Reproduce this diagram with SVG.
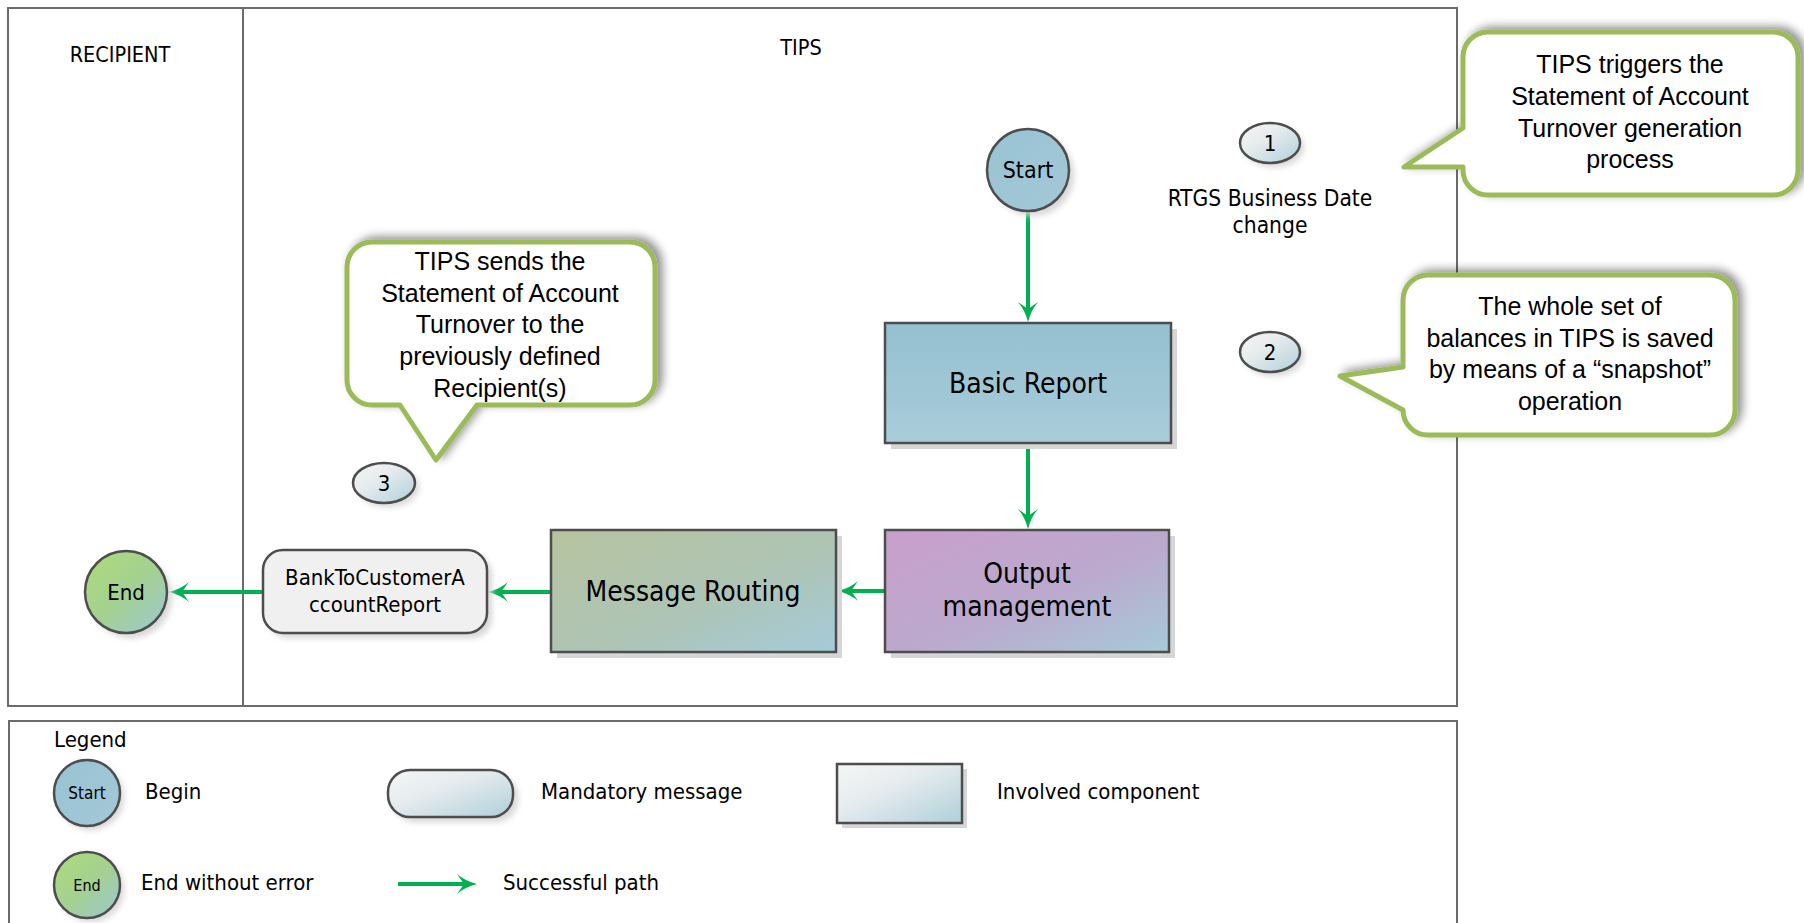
<svg xmlns="http://www.w3.org/2000/svg" width="1804" height="923" viewBox="0 0 1804 923">
<defs>
<style>
.t{font-family:"DejaVu Sans Condensed","Liberation Sans",sans-serif;fill:#000}
.c{font-family:"Liberation Sans",Arial,sans-serif;fill:#000;font-size:25px;text-anchor:middle}
.m{text-anchor:middle}
.frame{fill:none;stroke:#6b6b6b;stroke-width:2}
.node{stroke:#4d4d4d;stroke-width:2.5}
.sh{fill:#d6d6d6}
.callout{fill:#fff;stroke:#9BBB59;stroke-width:5;stroke-linejoin:round}
.conn{stroke:#00B050;stroke-width:4;fill:none}
</style>
<linearGradient id="gBlue" x1="0" y1="0" x2="0" y2="1"><stop offset="0" stop-color="#94C0D0"/><stop offset="1" stop-color="#A9CCDA"/></linearGradient>
<linearGradient id="gPurple" x1="0" y1="0" x2="1" y2="1"><stop offset="0" stop-color="#C99FCB"/><stop offset="0.55" stop-color="#BBA9CD"/><stop offset="1" stop-color="#A6CAD9"/></linearGradient>
<linearGradient id="gOlive" x1="0" y1="0" x2="1" y2="1"><stop offset="0" stop-color="#B6C39E"/><stop offset="0.55" stop-color="#AEC4B4"/><stop offset="1" stop-color="#A5CBD9"/></linearGradient>
<linearGradient id="gGreen" x1="0" y1="0" x2="1" y2="1"><stop offset="0" stop-color="#AEDB79"/><stop offset="0.5" stop-color="#A4D190"/><stop offset="1" stop-color="#9CC8D2"/></linearGradient>
<linearGradient id="gStart" x1="0" y1="0" x2="1" y2="1"><stop offset="0" stop-color="#98C2D2"/><stop offset="1" stop-color="#A4C9D8"/></linearGradient>
<linearGradient id="gPale" x1="0" y1="0" x2="1" y2="1"><stop offset="0" stop-color="#F5F5F5"/><stop offset="0.4" stop-color="#E6ECEE"/><stop offset="1" stop-color="#AFCFDA"/></linearGradient>
<filter id="blur" x="-20%" y="-20%" width="140%" height="140%"><feGaussianBlur stdDeviation="3"/></filter>
<filter id="cshadow" x="-10%" y="-15%" width="120%" height="130%"><feGaussianBlur in="SourceAlpha" stdDeviation="5"/><feOffset dx="5" dy="-3"/><feComponentTransfer><feFuncA type="linear" slope="0.45"/></feComponentTransfer><feMerge><feMergeNode/><feMergeNode in="SourceGraphic"/></feMerge></filter>
<marker id="arr" markerWidth="20" markerHeight="20" refX="7" refY="10" orient="auto" markerUnits="userSpaceOnUse" viewBox="0 0 20 20"><path d="M0,0 Q8,7 20,10 Q8,13 0,20 L7,10 Z" fill="#00B050"/></marker>
</defs>
<rect width="1804" height="923" fill="#fff"/>

<g id="lanes">
<rect class="frame" x="8" y="8" width="1449" height="698"/>
<line class="frame" x1="243" y1="8" x2="243" y2="706"/>
<text class="t m" x="120" y="62" font-size="21.5">RECIPIENT</text>
<text class="t m" x="801" y="55" font-size="21.5">TIPS</text>
</g>

<g id="connectors">
<line class="conn" x1="1028" y1="212" x2="1028" y2="309" marker-end="url(#arr)"/>
<line class="conn" x1="1028" y1="443" x2="1028" y2="516" marker-end="url(#arr)"/>
<line class="conn" x1="885" y1="591" x2="851" y2="591" marker-end="url(#arr)"/>
<line class="conn" x1="551" y1="592" x2="501" y2="592" marker-end="url(#arr)"/>
<line class="conn" x1="263" y1="592" x2="182" y2="592" marker-end="url(#arr)"/>
</g>

<g id="start">
<circle class="sh" cx="1033" cy="175" r="41" filter="url(#blur)"/>
<circle class="node" cx="1028" cy="170" r="41" fill="url(#gStart)"/>
<text class="t m" x="1028" y="178" font-size="23">Start</text>
</g>

<g id="n1">
<ellipse class="sh" cx="1274" cy="147" rx="30" ry="20" filter="url(#blur)"/>
<ellipse class="node" cx="1270" cy="143" rx="30" ry="20" fill="url(#gPale)"/>
<text class="t m" x="1270" y="151" font-size="22">1</text>
</g>
<g id="rtgs">
<text class="t m" x="1270" y="206" font-size="22.6">RTGS Business Date</text>
<text class="t m" x="1270" y="233" font-size="22.6">change</text>
</g>

<g id="callout1" filter="url(#cshadow)">
<path class="callout" d="M1488,32 H1773 A25,25 0 0 1 1798,57 V170 A25,25 0 0 1 1773,195 H1488 A25,25 0 0 1 1463,170 V167 L1404,167 L1463,128 V57 A25,25 0 0 1 1488,32 Z"/>
</g>
<g id="callout1-text">
<text class="c" x="1630" y="73">TIPS triggers the</text>
<text class="c" x="1630" y="105">Statement of Account</text>
<text class="c" x="1630" y="137">Turnover generation</text>
<text class="c" x="1630" y="168">process</text>
</g>

<g id="n2">
<ellipse class="sh" cx="1274" cy="356" rx="30" ry="20" filter="url(#blur)"/>
<ellipse class="node" cx="1270" cy="352" rx="30" ry="20" fill="url(#gPale)"/>
<text class="t m" x="1270" y="360" font-size="22">2</text>
</g>

<g id="callout2" filter="url(#cshadow)">
<path class="callout" d="M1428,275 H1710 A25,25 0 0 1 1735,300 V410 A25,25 0 0 1 1710,435 H1428 A25,25 0 0 1 1403,410 L1340,376 L1403,367 V300 A25,25 0 0 1 1428,275 Z"/>
</g>
<g id="callout2-text">
<text class="c" x="1570" y="315">The whole set of</text>
<text class="c" x="1570" y="347">balances in TIPS is saved</text>
<text class="c" x="1570" y="378">by means of a “snapshot”</text>
<text class="c" x="1570" y="410">operation</text>
</g>

<g id="callout3" filter="url(#cshadow)">
<path class="callout" d="M372,242 H630 A25,25 0 0 1 655,267 V380 A25,25 0 0 1 630,405 H477 L436,460 L400,405 H372 A25,25 0 0 1 347,380 V267 A25,25 0 0 1 372,242 Z"/>
</g>
<g id="callout3-text">
<text class="c" x="500" y="270">TIPS sends the</text>
<text class="c" x="500" y="302">Statement of Account</text>
<text class="c" x="500" y="333">Turnover to the</text>
<text class="c" x="500" y="365">previously defined</text>
<text class="c" x="500" y="397">Recipient(s)</text>
</g>

<g id="n3">
<ellipse class="sh" cx="388" cy="487" rx="31" ry="20" filter="url(#blur)"/>
<ellipse class="node" cx="384" cy="483" rx="31" ry="20" fill="url(#gPale)"/>
<text class="t m" x="384" y="491" font-size="22">3</text>
</g>

<g id="basic-report">
<rect class="sh" x="891" y="329" width="286" height="120"/>
<rect class="node" x="885" y="323" width="286" height="120" fill="url(#gBlue)"/>
<text class="t m" x="1028" y="393" font-size="28">Basic Report</text>
</g>

<g id="output-management">
<rect class="sh" x="891" y="536" width="284" height="122"/>
<rect class="node" x="885" y="530" width="284" height="122" fill="url(#gPurple)"/>
<text class="t m" x="1027" y="583" font-size="28">Output</text>
<text class="t m" x="1027" y="616" font-size="28">management</text>
</g>

<g id="message-routing">
<rect class="sh" x="557" y="536" width="285" height="122"/>
<rect class="node" x="551" y="530" width="285" height="122" fill="url(#gOlive)"/>
<text class="t m" x="693" y="601" font-size="28">Message Routing</text>
</g>

<g id="bank-msg">
<rect class="sh" x="268" y="555" width="224" height="83" rx="20" filter="url(#blur)"/>
<rect class="node" x="263" y="550" width="224" height="83" rx="20" fill="#F0F0F0"/>
<text class="t m" x="375" y="585" font-size="22">BankToCustomerA</text>
<text class="t m" x="375" y="612" font-size="22">ccountReport</text>
</g>

<g id="end">
<circle class="sh" cx="131" cy="597" r="41" filter="url(#blur)"/>
<circle class="node" cx="126" cy="592" r="41" fill="url(#gGreen)"/>
<text class="t m" x="126" y="600" font-size="22">End</text>
</g>

<g id="legend">
<rect class="frame" x="9" y="721" width="1448" height="215"/>
<text class="t" x="54" y="747" font-size="22">Legend</text>
<circle class="sh" cx="91" cy="797" r="33" filter="url(#blur)"/>
<circle class="node" cx="87" cy="793" r="33" fill="url(#gStart)"/>
<text class="t m" x="87" y="799" font-size="17">Start</text>
<text class="t" x="145" y="799" font-size="22">Begin</text>
<circle class="sh" cx="91" cy="889" r="33" filter="url(#blur)"/>
<circle class="node" cx="87" cy="885" r="33" fill="url(#gGreen)"/>
<text class="t m" x="87" y="891" font-size="16">End</text>
<text class="t" x="141" y="890" font-size="22">End without error</text>
<rect class="sh" x="393" y="775" width="125" height="47" rx="22" filter="url(#blur)"/>
<rect class="node" x="388" y="770" width="125" height="47" rx="22" fill="url(#gPale)"/>
<text class="t" x="541" y="799" font-size="22">Mandatory message</text>
<line class="conn" x1="398" y1="884" x2="464" y2="884" marker-end="url(#arr)"/>
<text class="t" x="503" y="890" font-size="22">Successful path</text>
<rect class="sh" x="842" y="769" width="125" height="59"/>
<rect class="node" x="837" y="764" width="125" height="59" fill="url(#gPale)"/>
<text class="t" x="997" y="799" font-size="22">Involved component</text>
</g>
</svg>
